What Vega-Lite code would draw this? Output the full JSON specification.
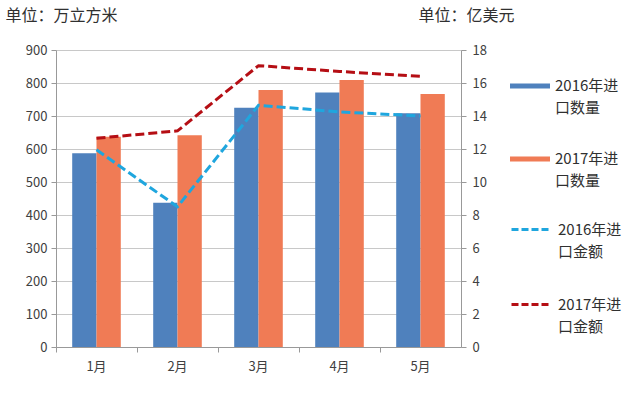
{
  "$schema": "https://vega.github.io/schema/vega-lite/v6.json",
  "width": 405,
  "height": 297,
  "autosize": {"type": "none"},
  "padding": {"left": 56, "top": 50, "right": 179, "bottom": 47},
  "background": "white",
  "config": {
    "view": {"stroke": null},
    "font": "Noto Sans CJK SC",
    "axis": {
      "labelFont": "Noto Sans CJK SC",
      "labelFontSize": 13,
      "labelColor": "#404040",
      "domainColor": "#999999",
      "tickColor": "#999999",
      "tickSize": 5,
      "gridColor": "#C8C8C8",
      "titleFont": "Noto Sans CJK SC",
      "titleFontSize": 16,
      "titleFontWeight": "normal",
      "titleColor": "#303030"
    },
    "legend": {
      "labelFont": "Noto Sans CJK SC",
      "labelFontSize": 15,
      "labelColor": "#303030"
    }
  },
  "datasets": {
    "bars": [
      {"month": "1月", "series": "2016年进口数量", "qty": 587},
      {"month": "1月", "series": "2017年进口数量", "qty": 637},
      {"month": "2月", "series": "2016年进口数量", "qty": 437},
      {"month": "2月", "series": "2017年进口数量", "qty": 642},
      {"month": "3月", "series": "2016年进口数量", "qty": 725},
      {"month": "3月", "series": "2017年进口数量", "qty": 779},
      {"month": "4月", "series": "2016年进口数量", "qty": 771},
      {"month": "4月", "series": "2017年进口数量", "qty": 809},
      {"month": "5月", "series": "2016年进口数量", "qty": 708},
      {"month": "5月", "series": "2017年进口数量", "qty": 767}
    ],
    "lines": [
      {"month": "1月", "series": "2016年进口金额", "amount": 11.95},
      {"month": "2月", "series": "2016年进口金额", "amount": 8.5},
      {"month": "3月", "series": "2016年进口金额", "amount": 14.65},
      {"month": "4月", "series": "2016年进口金额", "amount": 14.25},
      {"month": "5月", "series": "2016年进口金额", "amount": 14.0},
      {"month": "1月", "series": "2017年进口金额", "amount": 12.65},
      {"month": "2月", "series": "2017年进口金额", "amount": 13.1},
      {"month": "3月", "series": "2017年进口金额", "amount": 17.05},
      {"month": "4月", "series": "2017年进口金额", "amount": 16.7},
      {"month": "5月", "series": "2017年进口金额", "amount": 16.4}
    ]
  },
  "layer": [
    {
      "data": {"name": "bars"},
      "mark": {"type": "bar"},
      "encoding": {
        "x": {
          "field": "month", "type": "nominal", "sort": null,
          "scale": {"paddingInner": 0, "paddingOuter": 0},
          "axis": {"title": null, "labelAngle": 0, "bandPosition": 0, "labelPadding": 8}
        },
        "xOffset": {
          "field": "series", "type": "nominal",
          "scale": {"paddingInner": 0, "paddingOuter": 0.667}
        },
        "y": {
          "field": "qty", "type": "quantitative",
          "scale": {"domain": [0, 900], "nice": false},
          "axis": {
            "orient": "left", "values": [0,100,200,300,400,500,600,700,800,900],
            "grid": true, "labelPadding": 4,
            "title": "单位：万立方米", "titleAngle": 0, "titleAlign": "left",
            "titleBaseline": "middle", "titleX": -51, "titleY": -35
          }
        },
        "fill": {
          "field": "series", "type": "nominal",
          "scale": {"domain": ["2016年进口数量", "2017年进口数量"], "range": ["#4F81BD", "#F07B55"]},
          "legend": {
            "title": null, "orient": "none", "legendX": 454, "legendY": 16,
            "symbolType": "M-1,-0.125H1V0.125H-1Z", "symbolSize": 1600, "symbolStrokeWidth": 0,
            "rowPadding": 23, "labelOffset": 5,
            "labelExpr": "[substring(datum.label,0,6), substring(datum.label,6)]",
            "encode": {"labels": {"update": {"lineHeight": {"value": 22}}}}
          }
        }
      }
    },
    {
      "data": {"name": "lines"},
      "mark": {"type": "line", "strokeDash": [9, 4], "strokeWidth": 3},
      "encoding": {
        "x": {"field": "month", "type": "nominal", "sort": null},
        "y": {
          "field": "amount", "type": "quantitative",
          "scale": {"domain": [0, 18], "nice": false},
          "axis": {
            "orient": "right", "values": [0,2,4,6,8,10,12,14,16,18],
            "grid": false, "labelPadding": 6,
            "title": "单位：亿美元", "titleAngle": 0, "titleAlign": "left",
            "titleBaseline": "middle", "titleX": -43, "titleY": -35
          }
        },
        "stroke": {
          "field": "series", "type": "nominal",
          "scale": {"domain": ["2016年进口金额", "2017年进口金额"], "range": ["#1FA6DE", "#B50E14"]},
          "legend": {
            "title": null, "orient": "none", "legendX": 454, "legendY": 158,
            "symbolType": "stroke", "symbolSize": 1600, "symbolStrokeWidth": 3,
            "symbolDash": [7, 3],
            "rowPadding": 23, "labelOffset": 5,
            "labelExpr": "[substring(datum.label,0,6), substring(datum.label,6)]",
            "encode": {"labels": {"update": {"lineHeight": {"value": 22}}}}
          }
        }
      }
    }
  ],
  "resolve": {"scale": {"y": "independent"}}
}
